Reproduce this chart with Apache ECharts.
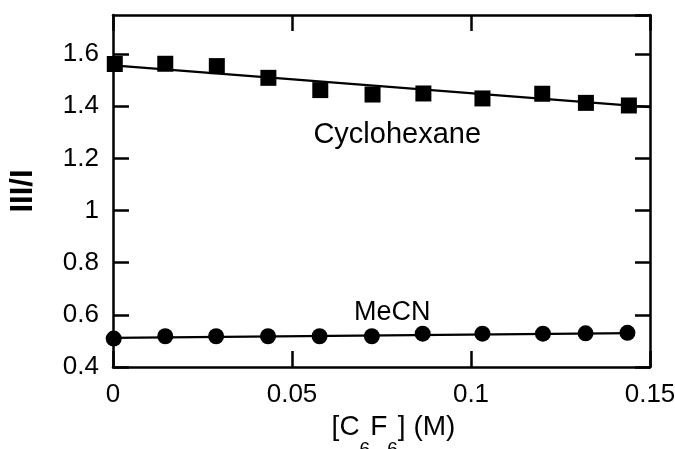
<!DOCTYPE html>
<html>
<head>
<meta charset="utf-8">
<script src="https://cdn.jsdelivr.net/npm/echarts@6/dist/echarts.min.js"></script>
<style>html,body{margin:0;padding:0;background:#fff}#c{width:675px;height:449px}</style>
</head>
<body>
<div id="c"></div>
<script>
// C6F6 concentration (M)
const cycloX = [0.0005, 0.0146, 0.029, 0.0434, 0.0579, 0.0725, 0.0867, 0.1032, 0.1199, 0.1321, 0.1441];
const cycloY = [1.562, 1.563, 1.554, 1.509, 1.462, 1.445, 1.449, 1.430, 1.448, 1.413, 1.403];
const mecnX = [0.0002, 0.0146, 0.0288, 0.0433, 0.0577, 0.0723, 0.0865, 0.1032, 0.1201, 0.132, 0.1437];
const mecnY = [0.509, 0.518, 0.518, 0.518, 0.518, 0.518, 0.528, 0.528, 0.528, 0.529, 0.531];
// linear fit lines (endpoints)
const cycloFitX = [0, 0.15];
const cycloFitY = [1.557, 1.397];
const mecnFitX = [0, 0.145];
const mecnFitY = [0.512, 0.530];
const seriesLabels = ['Cyclohexane', 'MeCN'];
const xTicks = [0, 0.05, 0.1, 0.15];
const yTicks = [0.4, 0.6, 0.8, 1, 1.2, 1.4, 1.6];

const zip = (a, b) => a.map((v, i) => [v, b[i]]);
const FONT = '"Liberation Sans", Arial, Helvetica, sans-serif';
const axisLine = { show: true, onZero: false, lineStyle: { color: '#000', width: 2.5 } };

const chart = echarts.init(document.getElementById('c'), null, { renderer: 'canvas' });
chart.setOption({
  backgroundColor: '#fff',
  animation: false,
  grid: { left: 113, right: 25, top: 15, bottom: 82, containLabel: false, outerBoundsMode: 'none' },
  xAxis: [{
    type: 'value', min: 0, max: 0.15, interval: 0.05,
    axisLine: axisLine,
    axisTick: { show: true, inside: true, length: 16, lineStyle: { color: '#000', width: 2.5 } },
    axisLabel: { color: '#000', fontSize: 26, fontFamily: FONT, margin: 15 },
    splitLine: { show: false },
    name: '[C{sub|6}F{sub|6}] (M)',
    nameLocation: 'middle', nameGap: 38,
    nameTextStyle: {
      color: '#000', fontSize: 28, fontFamily: FONT, padding: [0, 0, 0, 24],
      rich: { sub: { fontSize: 19, fontFamily: FONT, color: '#000', verticalAlign: 'bottom', padding: [0, 0, -18, 0] } }
    }
  }, {
    type: 'value', position: 'top', min: 0, max: 0.15, interval: 0.05,
    axisLine: axisLine,
    axisTick: { show: true, inside: true, length: 16, lineStyle: { color: '#000', width: 2.5 } },
    axisLabel: { show: false }, splitLine: { show: false }
  }],
  yAxis: [{
    type: 'value', min: 0.4, max: 1.75, interval: 0.2,
    axisLine: axisLine,
    axisTick: { show: true, inside: true, length: 16, lineStyle: { color: '#000', width: 2.5 } },
    axisLabel: { color: '#000', fontSize: 26, fontFamily: FONT, margin: 14, showMaxLabel: false, padding: [0, 0, 8, 0] },
    splitLine: { show: false },
    name: 'III/I', nameLocation: 'middle', nameGap: 74, nameRotate: 90,
    nameTextStyle: { color: '#000', fontSize: 31, fontWeight: 'bold', fontFamily: FONT }
  }, {
    type: 'value', position: 'right', min: 0.4, max: 1.75, interval: 0.2,
    axisLine: axisLine,
    axisTick: { show: true, inside: true, length: 15, lineStyle: { color: '#000', width: 2.5 } },
    axisLabel: { show: false }, splitLine: { show: false }
  }],
  series: [
    {
      name: seriesLabels[0] + ' fit', type: 'line', data: zip(cycloFitX, cycloFitY),
      showSymbol: false, symbol: 'none', lineStyle: { color: '#000', width: 2.2 }, z: 2
    },
    {
      name: seriesLabels[1] + ' fit', type: 'line', data: zip(mecnFitX, mecnFitY),
      showSymbol: false, symbol: 'none', lineStyle: { color: '#000', width: 2.2 }, z: 2
    },
    {
      name: seriesLabels[0], type: 'scatter', data: zip(cycloX, cycloY),
      symbol: 'rect', symbolSize: 16, itemStyle: { color: '#000', opacity: 1 }, z: 3,
      markPoint: {
        symbol: 'rect', symbolSize: 1, itemStyle: { color: 'transparent' },
        label: { show: true, position: 'inside', formatter: seriesLabels[0], color: '#000', fontSize: 29, fontFamily: FONT },
        data: [{ coord: [0.0794, 1.291] }]
      }
    },
    {
      name: seriesLabels[1], type: 'scatter', data: zip(mecnX, mecnY),
      symbol: 'circle', symbolSize: 16, itemStyle: { color: '#000', opacity: 1 }, z: 3,
      markPoint: {
        symbol: 'rect', symbolSize: 1, itemStyle: { color: 'transparent' },
        label: { show: true, position: 'inside', formatter: seriesLabels[1], color: '#000', fontSize: 27, fontFamily: FONT },
        data: [{ coord: [0.078, 0.610] }]
      }
    }
  ]
});
</script>
</body>
</html>
